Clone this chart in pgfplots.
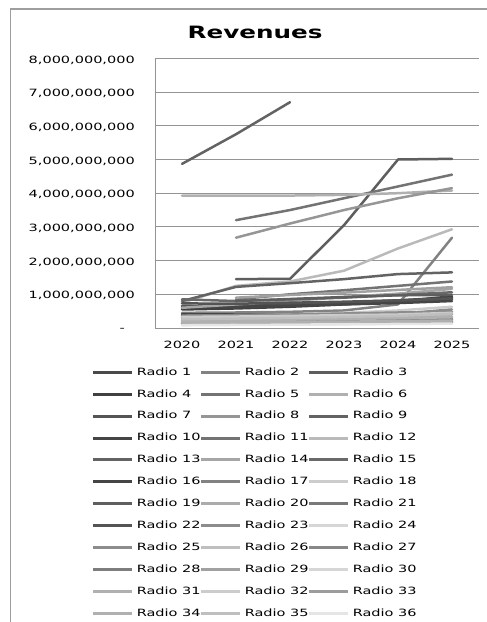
\documentclass[border=0pt]{standalone}
\usepackage{fontspec}
\setmainfont{DejaVu Sans}[FakeStretch=1.45]
\usepackage{pgfplots}
\pgfplotsset{compat=1.18}

% grey levels of the 36 series
\definecolor{r1}{gray}{0.29}  \definecolor{r2}{gray}{0.51}  \definecolor{r3}{gray}{0.37}
\definecolor{r4}{gray}{0.25}  \definecolor{r5}{gray}{0.45}  \definecolor{r6}{gray}{0.69}
\definecolor{r7}{gray}{0.33}  \definecolor{r8}{gray}{0.59}  \definecolor{r9}{gray}{0.39}
\definecolor{r10}{gray}{0.27} \definecolor{r11}{gray}{0.45} \definecolor{r12}{gray}{0.73}
\definecolor{r13}{gray}{0.39} \definecolor{r14}{gray}{0.65} \definecolor{r15}{gray}{0.41}
\definecolor{r16}{gray}{0.27} \definecolor{r17}{gray}{0.51} \definecolor{r18}{gray}{0.80}
\definecolor{r19}{gray}{0.37} \definecolor{r20}{gray}{0.67} \definecolor{r21}{gray}{0.47}
\definecolor{r22}{gray}{0.33} \definecolor{r23}{gray}{0.55} \definecolor{r24}{gray}{0.84}
\definecolor{r25}{gray}{0.55} \definecolor{r26}{gray}{0.75} \definecolor{r27}{gray}{0.53}
\definecolor{r28}{gray}{0.49} \definecolor{r29}{gray}{0.63} \definecolor{r30}{gray}{0.84}
\definecolor{r31}{gray}{0.69} \definecolor{r32}{gray}{0.80} \definecolor{r33}{gray}{0.61}
\definecolor{r34}{gray}{0.69} \definecolor{r35}{gray}{0.75} \definecolor{r36}{gray}{0.90}
\definecolor{gridgray}{gray}{0.58}
\definecolor{framegray}{gray}{0.62}

% one revenue series: colour, coordinates (x = year index, y in billions), name
\newcommand{\radio}[3]{%
  \addplot[#1] coordinates {#2};
  \addlegendentry{\makebox[59bp][l]{#3}}}

\begin{document}
\begin{tikzpicture}
\useasboundingbox (0,0) rectangle (487bp,622bp);
\begin{axis}[
  scale only axis,
  width=324bp, height=269.6bp,
  at={(155bp,294bp)}, anchor=south west,
  xmin=-0.5, xmax=5.5,
  ymin=0, ymax=8,
  xtick={0,1,2,3,4,5},
  xticklabels={2020,2021,2022,2023,2024,2025},
  ytick={0,1,2,3,4,5,6,7,8},
  yticklabels={{-\hspace*{10bp}},{1,000,000,000},{2,000,000,000},{3,000,000,000},
    {4,000,000,000},{5,000,000,000},{6,000,000,000},{7,000,000,000},{8,000,000,000}},
  major tick length=0pt,
  ymajorgrids,
  grid style={gridgray, line width=0.9bp},
  axis line style={gridgray, line width=0.9bp},
  axis x line*=bottom, axis y line*=left,
  tick label style={font=\fontsize{10bp}{12bp}\selectfont, text=black},
  yticklabel style={anchor=east, inner sep=0pt, xshift=-20bp, yshift=-1.5bp},
  xticklabel style={anchor=north, inner sep=0pt, yshift=-13bp},
  title={Revenues},
  title style={font=\fontsize{17bp}{20bp}\selectfont\bfseries,
    at={(axis description cs:0.309,1.0745)}, anchor=base, inner sep=0pt, yshift=-6pt},
  every axis plot/.append style={line width=2.5bp, line join=round, line cap=round, mark=none},
  legend image code/.code={\draw[#1, line width=3bp, line cap=butt] (0bp,0bp) -- (39bp,0bp);},
  legend columns=3,
  legend cell align=left,
  legend style={at={(axis description cs:-0.1966,-0.147)}, anchor=north west,
    draw=none, fill=none, inner sep=0pt, outer sep=0pt,
    column sep=0pt, row sep=12.4bp,
    font=\fontsize{10bp}{12bp}\selectfont,
    nodes={inner xsep=3.5bp, inner ysep=0pt, text height=7.5bp, text depth=2bp}},
]
\radio{r1}{(0,0.62)(1,0.65)(2,0.70)(3,0.76)(4,0.82)(5,0.91)}{Radio 1}
\radio{r2}{(0,0.45)(1,0.46)(2,0.48)(3,0.52)(4,0.70)(5,2.68)}{Radio 2}
\radio{r3}{(1,1.45)(2,1.46)(3,3.05)(4,5.00)(5,5.02)}{Radio 3}
\radio{r4}{(0,0.55)(1,0.58)(2,0.63)(3,0.70)(4,0.78)(5,0.94)}{Radio 4}
\radio{r5}{(1,3.20)(2,3.50)(3,3.85)(4,4.20)(5,4.55)}{Radio 5}
\radio{r6}{(0,3.93)(1,3.93)(2,3.93)(3,3.95)(4,4.00)(5,4.08)}{Radio 6}
\radio{r7}{(0,0.66)(1,0.62)(2,0.68)(3,0.74)(4,0.80)(5,0.85)}{Radio 7}
\radio{r8}{(1,2.68)(2,3.10)(3,3.50)(4,3.85)(5,4.15)}{Radio 8}
\radio{r9}{(0,4.87)(1,5.75)(2,6.70)}{Radio 9}
\radio{r10}{(0,0.60)(1,0.63)(2,0.66)(3,0.70)(4,0.74)(5,0.80)}{Radio 10}
\radio{r11}{(1,0.85)(2,1.00)(3,1.12)(4,1.25)(5,1.38)}{Radio 11}
\radio{r12}{(0,0.75)(1,1.25)(2,1.38)(3,1.70)(4,2.36)(5,2.93)}{Radio 12}
\radio{r13}{(0,0.80)(1,1.22)(2,1.33)(3,1.45)(4,1.60)(5,1.65)}{Radio 13}
\radio{r14}{(0,0.60)(1,0.70)(2,0.80)(3,0.92)(4,1.02)(5,1.16)}{Radio 14}
\radio{r15}{(0,0.85)(1,0.80)(2,0.85)(3,0.90)(4,0.98)(5,1.06)}{Radio 15}
\radio{r16}{(0,0.41)(1,0.40)(2,0.40)(3,0.41)(4,0.41)(5,0.41)}{Radio 16}
\radio{r17}{(0,0.37)(1,0.38)(2,0.40)(3,0.42)(4,0.44)(5,0.48)}{Radio 17}
\radio{r18}{(0,0.31)(1,0.35)(2,0.40)(3,0.45)(4,0.52)(5,0.63)}{Radio 18}
\radio{r19}{(1,0.80)(2,0.86)(3,0.92)(4,0.97)(5,0.98)}{Radio 19}
\radio{r20}{(0,0.24)(1,0.26)(2,0.28)(3,0.30)(4,0.32)(5,0.34)}{Radio 20}
\radio{r21}{(0,0.17)(1,0.18)(2,0.19)(3,0.20)(4,0.22)(5,0.26)}{Radio 21}
\radio{r22}{(0,0.73)(1,0.72)(2,0.75)(3,0.78)(4,0.82)(5,0.88)}{Radio 22}
\radio{r23}{(0,0.30)(1,0.32)(2,0.35)(3,0.38)(4,0.42)(5,0.55)}{Radio 23}
\radio{r24}{(0,0.12)(1,0.13)(2,0.14)(3,0.15)(4,0.16)(5,0.19)}{Radio 24}
\radio{r25}{(0,0.35)(1,0.37)(2,0.40)(3,0.43)(4,0.46)(5,0.48)}{Radio 25}
\radio{r26}{(0,0.20)(1,0.22)(2,0.24)(3,0.26)(4,0.28)(5,0.30)}{Radio 26}
\radio{r27}{(1,0.18)(2,0.20)(3,0.22)(4,0.24)(5,0.26)}{Radio 27}
\radio{r28}{(0,0.14)(1,0.15)(2,0.16)(3,0.17)(4,0.18)(5,0.20)}{Radio 28}
\radio{r29}{(1,0.90)(2,0.98)(3,1.05)(4,1.13)(5,1.21)}{Radio 29}
\radio{r30}{(0,0.10)(1,0.10)(2,0.11)(3,0.12)(4,0.13)(5,0.14)}{Radio 30}
\radio{r31}{(0,0.22)(1,0.23)(2,0.25)(3,0.27)(4,0.29)(5,0.32)}{Radio 31}
\radio{r32}{(0,0.33)(1,0.34)(2,0.36)(3,0.38)(4,0.40)(5,0.45)}{Radio 32}
\radio{r33}{(1,0.12)(2,0.13)(3,0.14)(4,0.15)(5,0.16)}{Radio 33}
\radio{r34}{(0,0.16)(1,0.17)(2,0.18)(3,0.19)(4,0.20)(5,0.22)}{Radio 34}
\radio{r35}{(0,0.26)(1,0.28)(2,0.30)(3,0.33)(4,0.36)(5,0.42)}{Radio 35}
\radio{r36}{(0,0.08)(1,0.09)(2,0.10)(3,0.11)(4,0.12)(5,0.13)}{Radio 36}
\end{axis}
% chart area frame (left and top edges)
\draw[framegray, line width=1.3bp] (10.7bp,0bp) -- (10.7bp,613bp) -- (487bp,613bp);
\end{tikzpicture}
\end{document}
